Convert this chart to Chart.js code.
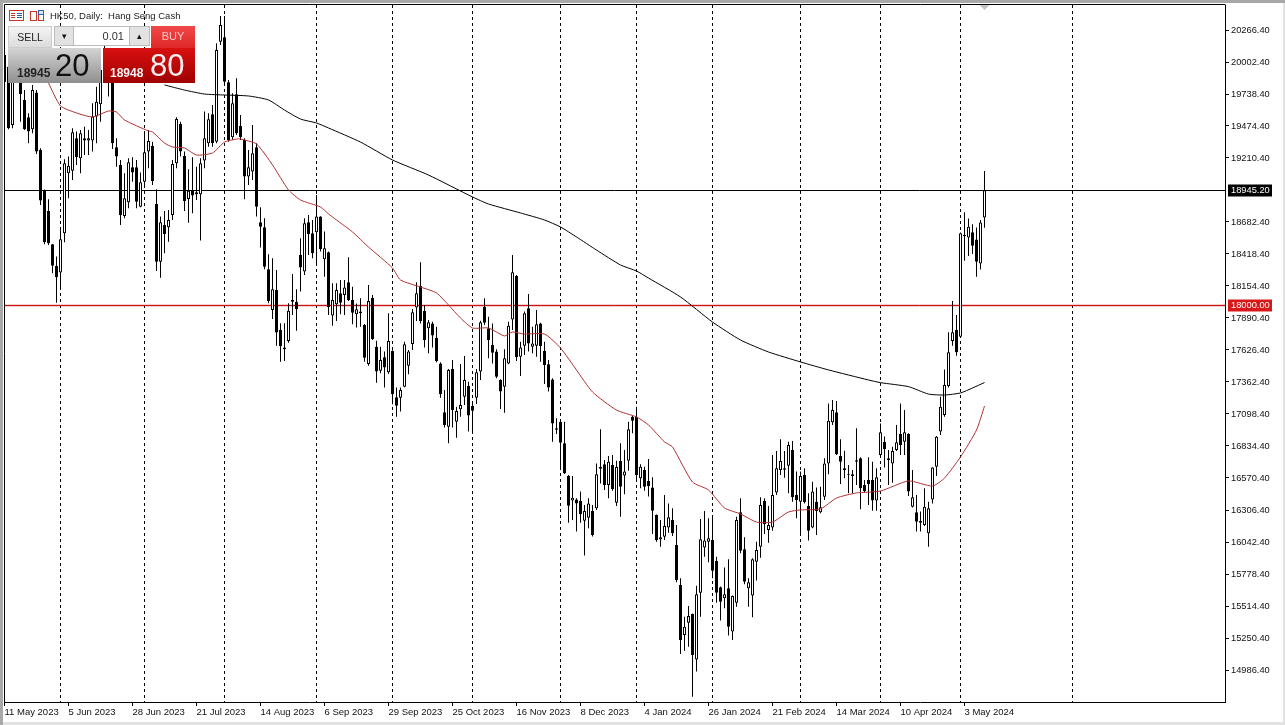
<!DOCTYPE html>
<html>
<head>
<meta charset="utf-8">
<title>HK50, Daily</title>
<script src="https://cdn.jsdelivr.net/npm/chart.js@4/dist/chart.umd.min.js"></script>
<style>
html, body { margin: 0; padding: 0; background: #fff; overflow: hidden; }
#wrap { position: relative; width: 1285px; height: 725px; }
canvas { position: absolute; left: 0; top: 0; }
.abs { position: absolute; box-sizing: border-box; white-space: nowrap; font-family: "Liberation Sans", sans-serif; }
#title { left: 50px; top: 10px; font-size: 9.5px; color: #222; }
#sellBtn { left: 8px; top: 26px; width: 44px; height: 22px; background: linear-gradient(#f4f4f4, #dcdcdc); color: #222; font-size: 10.5px; text-align: center; line-height: 20px; border: 1px solid #ccc; }
#downBtn { left: 54px; top: 26px; width: 20px; height: 20px; background: #e2e2e2; border: 1px solid #bbb; color: #111; font-size: 9px; text-align: center; line-height: 18px; }
#lotBox { left: 74px; top: 26px; width: 55px; height: 20px; background: #fff; border-top: 1px solid #bbb; border-bottom: 1px solid #bbb; color: #333; font-size: 11px; text-align: right; padding-right: 5px; line-height: 18px; }
#upBtn { left: 129px; top: 26px; width: 21px; height: 20px; background: #e2e2e2; border: 1px solid #bbb; color: #111; font-size: 9px; text-align: center; line-height: 18px; }
#buyBtn { left: 151px; top: 26px; width: 44px; height: 22px; background: linear-gradient(#f04848, #e02828); color: #f6c8c8; font-size: 11px; text-align: center; line-height: 20px; }
#sellBox { left: 8px; top: 48px; width: 93px; height: 35px; background: linear-gradient(#d4d4d4, #8f8f8f); }
#buyBox { left: 103px; top: 48px; width: 92px; height: 35px; background: linear-gradient(#d81010, #a00000); }
.small { font-size: 12px; font-weight: bold; top: 18px; line-height: 14px; }
.big { font-size: 31px; top: 0; line-height: 35px; }
</style>
</head>
<body>
<div id="wrap">
<canvas id="chart" width="1285" height="725"></canvas>
<svg class="abs" style="left:9px;top:9px" width="38" height="13">
<rect x="0.5" y="1.5" width="14" height="10" fill="#fff" stroke="#c0392b"/><path d="M2 4.5h4M2 6.5h4M2 8.5h4" stroke="#c0392b"/><path d="M8 4.5h5M8 6.5h5M8 8.5h5" stroke="#2f5fa8"/>
<rect x="21.5" y="2.5" width="6" height="9" fill="#fff" stroke="#c0392b"/><rect x="29.5" y="1.5" width="5" height="10" fill="#fff" stroke="#c0392b"/><rect x="29.5" y="1.5" width="5" height="4" fill="#dce6f2" stroke="#2f5fa8"/>
</svg>
<div class="abs" id="title">HK50, Daily:&nbsp; Hang Seng Cash</div>
<div class="abs" id="sellBtn">SELL</div>
<div class="abs" id="downBtn">&#9662;</div>
<div class="abs" id="lotBox">0.01</div>
<div class="abs" id="upBtn">&#9652;</div>
<div class="abs" id="buyBtn">BUY</div>
<div class="abs" id="sellBox"><span class="abs small" style="left:9px;color:#222">18945</span><span class="abs big" style="left:47px;color:#111">20</span></div>
<div class="abs" id="buyBox"><span class="abs small" style="left:7px;color:#f4f4f4">18948</span><span class="abs big" style="left:47px;color:#f8f0f0">80</span></div>
</div>
<script>
const opens = [
20060,19964,19483,19868,19964,19689,19546,19447,19750,19277,
18947,18773,18498,18320,18265,18589,19084,19106,19373,19208,
19373,19354,19354,19552,19653,19895,20060,19937,19299,19153,
18732,18845,19134,19134,18809,19015,19263,19310,18831,18355,
18658,18639,18740,19167,19491,19227,18872,18938,18911,18911,
19189,19332,19571,19345,20170,20206,19835,19381,19736,19474,
19359,19057,19098,19299,18680,18639,18292,17957,18122,17792,
17632,17701,18039,18025,18410,18273,18680,18589,18597,18727,
18375,18432,17910,18003,18094,18080,18185,18039,17921,17929,
17833,17511,18058,17654,17456,17566,17442,17618,17236,17233,
17324,17497,17676,17976,18157,17948,17805,17846,17728,17516,
17112,16994,17470,17035,17137,17241,17329,17164,17233,17448,
17984,17805,17668,17613,17379,17324,17516,17879,18237,17571,
17662,17970,17654,17662,17846,17621,17508,17384,16980,17035,
16857,16587,16384,16394,16381,16218,16243,16298,16320,16661,
16683,16513,16678,16367,16711,16590,16713,17076,17076,16568,
16637,16546,16493,16265,16062,16086,16161,16224,16018,15688,
15275,15377,15448,15074,15624,15996,16045,16059,15886,15669,
15578,15660,15303,15542,16287,15982,15660,15600,15880,16004,
16381,16141,16161,16450,16637,16650,16672,16801,16430,16375,
16595,16339,16161,16375,16287,16416,16691,17030,17112,16752,
16650,16601,16601,16716,16733,16513,16554,16554,16384,16760,
16870,16733,16691,16801,16933,16870,16933,16334,16287,16216,
16183,16114,16394,16664,16953,17090,17329,17700,17791,17736,
18578,18555,18597,18539,18341,18720];
const highs = [
20115,20019,19964,20047,20019,19772,19579,19813,19772,19290,
18950,18870,18500,18397,18617,19200,19222,19455,19428,19442,
19469,19442,19662,19799,19992,20157,20102,19992,19373,19194,
19084,19208,19216,19194,19090,19428,19442,19345,18952,18727,
18773,18782,19194,19546,19510,19263,19117,19216,19139,19208,
19593,19579,19648,20157,20382,20382,19854,19744,19868,19565,
19373,19277,19483,19332,18804,18713,18416,18383,18287,17847,
17847,18012,18254,18127,18548,18713,18740,18699,18905,18730,
18603,18440,18177,18177,18204,18204,18391,18149,18011,18053,
17840,18163,18080,17703,17654,17613,17929,17625,17316,17316,
17695,17626,17965,18185,18350,17998,17874,17860,17819,17525,
17296,17470,17544,17159,17511,17577,17365,17200,17470,17868,
18053,17901,17846,17632,17385,17632,17860,18410,18245,17695,
17943,18089,17819,17956,17852,17695,17544,17393,17063,17040,
17035,16595,16587,16403,16458,16348,16403,16348,16691,16972,
16719,16752,16760,16713,16857,16801,17035,17085,17159,16683,
16664,16727,16576,16270,16224,16430,16361,16320,16183,15743,
15426,15515,15452,15682,16232,16298,16238,16265,15921,15675,
15831,15900,15600,16251,16403,16081,15743,15908,16045,16411,
16403,16339,16760,16793,16890,16793,16870,16876,16623,16623,
16650,16444,16540,16491,16499,16733,17186,17214,17206,16890,
16796,16678,16636,16980,16741,16554,16741,16705,16650,17021,
16912,16801,16829,17008,17186,17131,16940,16636,16430,16293,
16485,16375,16660,16917,17241,17466,17772,18030,17915,18595,
18762,18712,18663,18638,18698,19103];
const lows = [
19813,19447,19455,19840,19510,19441,19332,19414,19244,18823,
18498,18493,18259,18017,18135,18515,18878,19029,19153,19084,
19235,19235,19263,19332,19510,19854,19717,19285,19139,18658,
18713,18795,19015,18795,18805,18980,19125,18988,18278,18223,
18424,18520,18699,19125,19222,18773,18677,18754,18864,18529,
19125,19304,19304,19332,20143,19826,19345,19359,19400,19359,
18870,18988,19029,18727,18471,18292,18012,17882,17662,17530,
17536,17687,17915,17786,18108,18245,18410,18383,18341,18438,
18231,17915,17827,17866,17921,17915,18031,17838,17811,17819,
17530,17497,17709,17357,17434,17316,17428,17178,17076,17118,
17320,17426,17626,17866,17846,17646,17599,17646,17525,17233,
16986,16857,16986,16903,17076,17173,16953,16945,17181,17379,
17833,17558,17516,17393,17140,17109,17508,17791,17536,17412,
17585,17613,17599,17571,17530,17346,17283,16870,16934,16642,
16603,16202,16224,16128,16202,15930,16155,16087,16306,16526,
16471,16403,16466,16340,16251,16436,16631,16939,16540,16485,
16466,16417,16108,16045,16004,16059,16119,16092,15710,15119,
15146,15179,14766,14973,15426,15921,15875,15743,15542,15394,
15495,15270,15234,15509,15949,15693,15509,15421,15724,15913,
16108,16037,16136,16430,16595,16573,16444,16375,16238,16100,
16361,16054,16155,16100,16279,16389,16601,17008,16760,16521,
16568,16444,16444,16513,16312,16449,16348,16301,16301,16746,
16656,16513,16532,16793,16760,16760,16422,16326,16128,16128,
16174,16004,16361,16587,16925,17076,17318,17662,17579,17728,
18363,18401,18418,18231,18291,18635];
const closes = [
19837,19455,19882,19992,19739,19447,19428,19772,19263,18859,
18515,18507,18322,18226,18540,19167,19147,19422,19216,19414,
19354,19373,19552,19675,19937,20102,19895,19332,19222,18740,
18878,19175,19090,18850,19010,19257,19351,19021,18355,18680,
18584,18699,19161,19532,19263,18856,18941,18900,18927,19167,
19373,19530,19332,20102,20308,19840,19359,19662,19414,19381,
19057,19134,19249,18809,18644,18314,18031,18127,17770,17660,
17646,17951,18025,17962,18306,18672,18581,18424,18727,18457,
18465,17979,18039,18122,18017,18143,18039,17934,17962,17943,
17563,18031,17717,17448,17544,17481,17701,17261,17167,17296,
17673,17613,17937,18094,17866,17709,17855,17745,17536,17261,
17008,17461,17131,17123,17173,17379,17085,17126,17442,17855,
17852,17709,17604,17406,17283,17558,17827,18267,17566,17648,
17929,17681,17681,17838,17659,17503,17316,17021,16969,16862,
16609,16342,16408,16361,16271,16298,16361,16100,16601,16647,
16513,16705,16477,16661,16499,16623,16972,17043,16595,16664,
16499,16504,16301,16059,16081,16174,16246,16114,15729,15234,
15344,15432,15110,15611,16065,16054,16073,15806,15624,15550,
15611,15344,15597,16224,15971,15715,15710,15900,15976,16348,
16188,16183,16430,16650,16711,16639,16843,16411,16389,16587,
16370,16136,16458,16298,16329,16691,17043,17131,16768,16705,
16636,16595,16587,16705,16485,16463,16518,16384,16576,16947,
16807,16716,16793,16865,16843,16947,16458,16411,16210,16202,
16334,16320,16658,16911,17159,17337,17607,17772,17607,18589,
18564,18643,18487,18355,18679,18945.2];

// moving averages, read at the bars where the curve bends
const slowMaBars = [40,45,50,55,61,66,70,74,78,81,89,97,106,117,121,129,135,139,143,148,154,158,161,169,177,184,191,199,206,216,219,226,231,235,239,242,245];
const slowMaValues = [19813,19771,19738,19730,19722,19689,19606,19532,19499,19458,19342,19194,19070,18889,18831,18757,18699,18641,18559,18451,18328,18278,18220,18064,17857,17709,17610,17528,17462,17379,17357,17324,17263,17255,17272,17313,17358];
const fastMaBars = [11,14,18,22,26,28,30,36,37,40,42,45,48,52,55,58,59,63,67,71,74,79,81,83,87,91,97,99,104,108,111,114,117,121,125,127,130,135,139,143,147,153,158,161,165,167,172,176,180,184,188,192,196,199,204,208,213,219,226,232,235,239,243,245];
const fastMaValues = [19829,19640,19582,19549,19598,19590,19524,19433,19425,19334,19301,19293,19235,19252,19342,19367,19367,19326,19153,18947,18864,18806,18749,18699,18600,18476,18303,18204,18146,18097,17998,17890,17808,17808,17742,17775,17758,17758,17643,17461,17280,17131,17074,17008,16868,16826,16537,16472,16323,16274,16207,16207,16290,16307,16315,16405,16447,16463,16546,16504,16570,16744,16966,17164];

const dateBars = [0,16,32,48,64,80,96,112,128,144,160,176,192,208,224,240];
const dateLabels = ['11 May 2023','5 Jun 2023','28 Jun 2023','21 Jul 2023','14 Aug 2023','6 Sep 2023','29 Sep 2023','25 Oct 2023','16 Nov 2023','8 Dec 2023','4 Jan 2024','26 Jan 2024','21 Feb 2024','14 Mar 2024','10 Apr 2024','3 May 2024'];
const monthBars = [14,35,55,78,97,117,139,158,177,199,219,239,267];
const priceTicks = [20266.4,20002.4,19738.4,19474.4,19210.4,18682.4,18418.4,18154.4,17890.4,17626.4,17362.4,17098.4,16834.4,16570.4,16306.4,16042.4,15778.4,15514.4,15250.4,14986.4];
const lastPrice = 18945.2;
const levelPrice = 18000;

const FONT = '"Liberation Sans", sans-serif';
const DARK_RED = '#b03030';

function priceBox(ctx, y, text, bg) {
    ctx.fillStyle = bg;
    ctx.fillRect(1228, Math.round(y) - 5.5, 44, 12);
    ctx.fillStyle = '#fff';
    ctx.font = '9.3px ' + FONT;
    ctx.textAlign = 'left';
    ctx.textBaseline = 'middle';
    ctx.fillText(text, 1231, Math.round(y) + 0.5);
}

function hline(ctx, a, y, color, width) {
    ctx.strokeStyle = color;
    ctx.lineWidth = width;
    ctx.beginPath(); ctx.moveTo(a.left, y); ctx.lineTo(a.right, y); ctx.stroke();
}

const backdrop = {
    id: 'backdrop',
    beforeDatasetsDraw(chart) {
        const { ctx, chartArea: a, scales: { x, y } } = chart;
        ctx.save();
        ctx.lineWidth = 1;
        ctx.strokeStyle = '#000';
        ctx.setLineDash([3, 3]);
        monthBars.forEach(b => {
            const px = Math.round(x.getPixelForValue(b) - 0.5) + 0.5;
            ctx.beginPath(); ctx.moveTo(px, a.top); ctx.lineTo(px, a.bottom); ctx.stroke();
        });
        ctx.setLineDash([]);
        hline(ctx, a, Math.round(y.getPixelForValue(lastPrice)) + 0.5, '#000', 1);
        const levelY = Math.round(y.getPixelForValue(levelPrice)) + 0.5;
        hline(ctx, a, levelY, 'rgba(210,30,30,0.22)', 3);
        hline(ctx, a, levelY, '#cc1414', 1);
        ctx.restore();
    },
    afterDraw(chart) {
        const { ctx, chartArea: a, scales: { x, y } } = chart;
        ctx.save();
        ctx.strokeStyle = '#000';
        ctx.lineWidth = 1;
        ctx.beginPath();
        ctx.moveTo(a.left + 0.5, a.bottom); ctx.lineTo(a.left + 0.5, a.top - 0.5); ctx.lineTo(a.right + 0.5, a.top - 0.5);
        ctx.stroke();
        // shift marker on the top edge
        const sx = x.getPixelForValue(245);
        ctx.fillStyle = '#c4c4c4';
        ctx.beginPath(); ctx.moveTo(sx - 5, a.top); ctx.lineTo(sx + 5, a.top); ctx.lineTo(sx, a.top + 5); ctx.fill();
        priceBox(ctx, y.getPixelForValue(lastPrice), '18945.20', '#000');
        priceBox(ctx, y.getPixelForValue(levelPrice), '18000.00', '#d81818');
        // window edge
        ctx.fillStyle = '#a8a8a8';
        ctx.fillRect(0, 0, 1285, 3);
        ctx.fillRect(0, 0, 3, 725);
        ctx.fillStyle = '#e2e2e2';
        ctx.fillRect(1283, 3, 2, 722);
        ctx.fillRect(3, 722, 1282, 3);
        ctx.restore();
    }
};

new Chart(document.getElementById('chart'), {
    type: 'bar',
    plugins: [backdrop],
    data: {
        datasets: [
            { type: 'line', data: slowMaBars.map((b, i) => ({ x: b, y: slowMaValues[i] })), borderColor: '#000', borderWidth: 1, pointRadius: 0, tension: 0.2, order: 1 },
            { type: 'line', data: fastMaBars.map((b, i) => ({ x: b, y: fastMaValues[i] })), borderColor: DARK_RED, borderWidth: 1, pointRadius: 0, tension: 0.2, order: 1 },
            {
                data: opens.map((o, i) => ({ x: i, y: [o, closes[i]] })),
                backgroundColor: ctx => closes[ctx.dataIndex] >= opens[ctx.dataIndex] ? '#fff' : '#000',
                borderColor: '#000', borderWidth: 1, borderSkipped: false, barThickness: 3, inflateAmount: 0, order: 2
            },
            {
                data: lows.map((l, i) => ({ x: i, y: [l, highs[i]] })),
                backgroundColor: '#000', borderWidth: 0, barThickness: 1, inflateAmount: 0, order: 3
            }
        ]
    },
    options: {
        responsive: false,
        animation: false,
        events: [],
        grouped: false,
        layout: { padding: { left: 4, top: 5, right: 0, bottom: 0 } },
        plugins: { legend: { display: false }, tooltip: { enabled: false } },
        scales: {
            x: {
                type: 'linear', offset: false, min: -0.125, max: 305.125,
                afterBuildTicks: axis => { axis.ticks = dateBars.map(v => ({ value: v })); },
                afterFit: axis => { axis.height = 23; axis.paddingLeft = 0; axis.paddingRight = 0; },
                grid: { display: true, drawOnChartArea: false, drawTicks: true, tickLength: 4, color: '#000', offset: false },
                border: { color: '#000', width: 1 },
                ticks: {
                    autoSkip: false, maxRotation: 0, align: 'start', padding: 1, color: '#111',
                    font: { family: FONT, size: 9.5 },
                    callback: v => dateLabels[dateBars.indexOf(v)]
                }
            },
            y: {
                position: 'right', min: 14722.4, max: 20472.65,
                afterBuildTicks: axis => { axis.ticks = priceTicks.map(v => ({ value: v })); },
                afterFit: axis => { axis.width = 60; axis.paddingTop = 0; axis.paddingBottom = 0; },
                grid: { display: true, drawOnChartArea: false, drawTicks: true, tickLength: 4, color: '#000' },
                border: { color: '#000', width: 1 },
                ticks: {
                    autoSkip: false, padding: 2, color: '#111',
                    font: { family: FONT, size: 9.3 },
                    callback: v => v.toFixed(2)
                }
            }
        }
    }
});
</script>
</body>
</html>
